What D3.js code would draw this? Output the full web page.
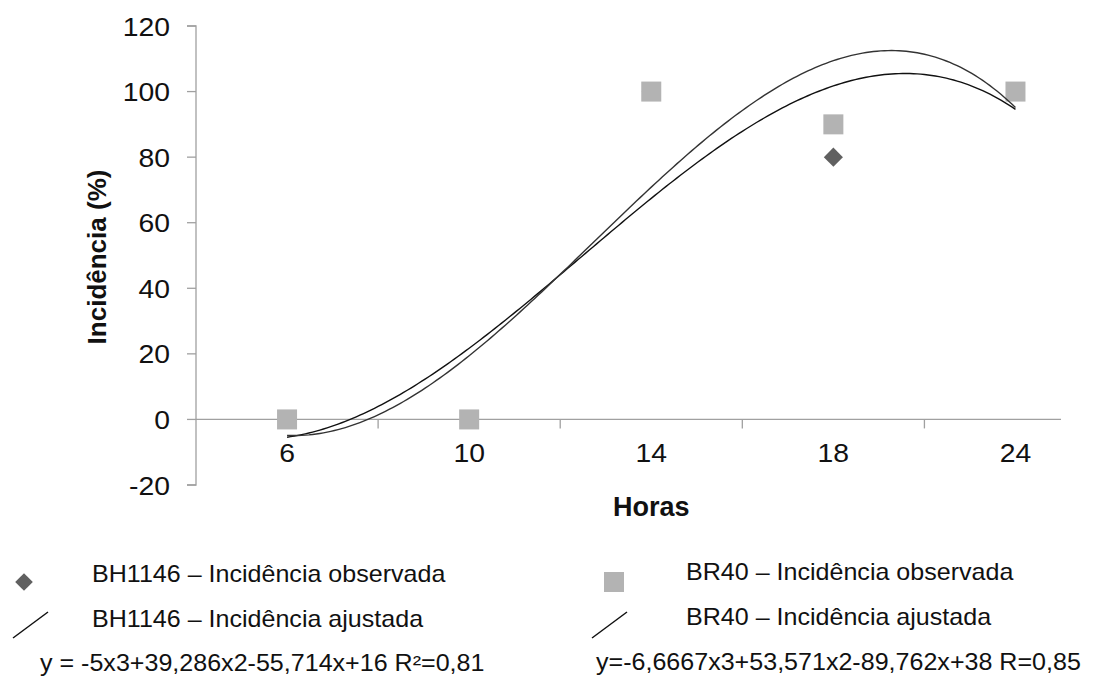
<!DOCTYPE html>
<html>
<head>
<meta charset="utf-8">
<script src="https://cdn.jsdelivr.net/npm/d3@7"></script>
<style>
  html, body { margin: 0; padding: 0; background: #fff; }
  svg { display: block; font-family: "Liberation Sans", Arial, sans-serif; }
</style>
</head>
<body>
<svg id="chart" width="1120" height="682"></svg>
<script>
// Hours of exposure (categories, plotted at positions 1..5)
const hours = [6, 10, 14, 18, 24];
const positions = [1, 2, 3, 4, 5];

// Observed incidence (%)
const bh1146Observed = [0, 0, 100, 80, 100];
const br40Observed = [0, 0, 100, 90, 100];

// Cubic fit coefficients [a3, a2, a1, a0] on position x
const bh1146Coef = [-5, 39.286, -55.714, 16];
const br40Coef = [-6.6667, 53.571, -89.762, 38];

// Y axis tick values
const yTicks = [-20, 0, 20, 40, 60, 80, 100, 120];

// Legend texts
const legendLeft = ["BH1146 – Incidência observada", "BH1146 – Incidência ajustada",
                    "y = -5x3+39,286x2-55,714x+16 R²=0,81"];
const legendRight = ["BR40 – Incidência observada", "BR40 – Incidência ajustada",
                     "y=-6,6667x3+53,571x2-89,762x+38 R=0,85"];

const svg = d3.select("#chart");
const axisColor = "#a0a0a0";
const squareColor = "#b3b3b3";
const diamondColor = "#606060";
const textColor = "#111";
const stretch = 1.09; // glyphs are set slightly wide

const x = d3.scaleLinear().domain([0.5, 5.25]).range([196, 1061]);
const y = d3.scaleLinear().domain([-20, 120]).range([485, 26]);

// Places a horizontally widened text label at (px, py)
function label(parent, px, py, str, size, anchor, weight) {
  return parent.append("text")
    .attr("transform", `translate(${px},${py}) scale(${stretch},1)`)
    .attr("text-anchor", anchor || "start")
    .attr("font-size", size)
    .attr("font-weight", weight || "normal")
    .attr("fill", textColor)
    .text(str);
}

// Y axis (line + outside ticks)
const yg = svg.append("g");
yg.append("path")
  .attr("d", `M${x(0.5) - 9},${y(120)}H${x(0.5)}V${y(-20)}H${x(0.5) - 9}`)
  .attr("fill", "none").attr("stroke", axisColor).attr("stroke-width", 1.3);
yTicks.forEach(v => {
  yg.append("line").attr("x1", x(0.5) - 9).attr("x2", x(0.5))
    .attr("y1", y(v)).attr("y2", y(v))
    .attr("stroke", axisColor).attr("stroke-width", 1.3);
  label(yg, x(0.5) - 26, y(v) + 9.5, String(v), 26, "end");
});

// X axis at zero: line with ticks between categories
const xg = svg.append("g");
xg.append("line").attr("x1", x(0.5)).attr("x2", x(5.25))
  .attr("y1", y(0)).attr("y2", y(0))
  .attr("stroke", axisColor).attr("stroke-width", 1.3);
[1.5, 2.5, 3.5, 4.5].forEach(v => {
  xg.append("line").attr("x1", x(v)).attr("x2", x(v))
    .attr("y1", y(0)).attr("y2", y(0) + 9)
    .attr("stroke", axisColor).attr("stroke-width", 1.3);
});
hours.forEach((h, i) => label(xg, x(positions[i]), y(0) + 43, String(h), 26, "middle"));

// Axis titles
svg.append("text").attr("x", x(3)).attr("y", 516).attr("text-anchor", "middle")
  .attr("font-size", 27).attr("font-weight", "bold").attr("fill", textColor).text("Horas");
svg.append("text").attr("transform", "translate(106,257) rotate(-90)")
  .attr("text-anchor", "middle").attr("font-size", 26).attr("font-weight", "bold")
  .attr("fill", textColor).text("Incidência (%)");

// Observed markers
const diamond = d3.symbol().type(d3.symbolSquare).size(13.5 * 13.5);
svg.append("g").selectAll("path").data(bh1146Observed).join("path")
  .attr("d", diamond)
  .attr("transform", (d, i) => `translate(${x(positions[i])},${y(d)}) rotate(45)`)
  .attr("fill", diamondColor);
svg.append("g").selectAll("rect").data(br40Observed).join("rect")
  .attr("x", (d, i) => x(positions[i]) - 10).attr("y", d => y(d) - 10)
  .attr("width", 20).attr("height", 20).attr("fill", squareColor);

// Fitted cubic curves
const poly = c => t => c[0] * t ** 3 + c[1] * t ** 2 + c[2] * t + c[3];
const samples = d3.range(1, 5.0001, 0.02);
const line = d3.line().x(d => x(d[0])).y(d => y(d[1]));
[[bh1146Coef, "#111"], [br40Coef, "#333"]].forEach(([c, col]) => {
  const f = poly(c);
  svg.append("path").datum(samples.map(t => [t, f(t)]))
    .attr("d", line).attr("fill", "none").attr("stroke", col).attr("stroke-width", 1.4);
});

// Legend
const lg = svg.append("g");
lg.append("path").attr("d", d3.symbol().type(d3.symbolSquare).size(12.5 * 12.5))
  .attr("transform", "translate(24,582) rotate(45)").attr("fill", diamondColor);
lg.append("rect").attr("x", 604).attr("y", 572).attr("width", 20).attr("height", 20)
  .attr("fill", squareColor);
lg.append("line").attr("x1", 13).attr("y1", 638).attr("x2", 48).attr("y2", 612)
  .attr("stroke", "#111").attr("stroke-width", 1.5);
lg.append("line").attr("x1", 592).attr("y1", 638).attr("x2", 627).attr("y2", 612)
  .attr("stroke", "#111").attr("stroke-width", 1.5);
const rowsY = [582, 627, 671];
legendLeft.forEach((t, i) => label(lg, i === 2 ? 40 : 92, rowsY[i], t, 23));
legendRight.forEach((t, i) => label(lg, i === 2 ? 596 : 686, rowsY[i] - (i === 2 ? 1 : 2), t, 23));
</script>
</body>
</html>
